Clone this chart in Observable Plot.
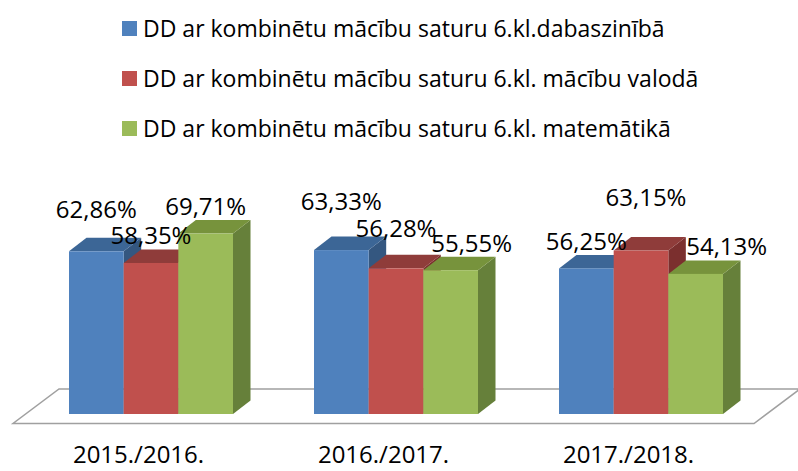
<!DOCTYPE html>
<html>
<head>
<meta charset="utf-8">
<script src="https://cdn.jsdelivr.net/npm/d3@7"></script>
<script src="https://cdn.jsdelivr.net/npm/@observablehq/plot@0.6"></script>
<style>
  body { margin: 0; background: #fff; font-family: "Open Sans", sans-serif; }
  #legend { position: relative; width: 798px; height: 150px; }
  .item { position: absolute; left: 122px; height: 30px; display: flex; align-items: center; font-size: 23px; color: #000; white-space: nowrap; }
  .sw { width: 15px; height: 15px; margin-right: 6px; flex: none; }
  #chart svg { display: block; }
</style>
</head>
<body>
<div id="legend"></div>
<div id="chart"></div>
<script>
// ---- data ----
const years = ["2015./2016.", "2016./2017.", "2017./2018."];
const seriesNames = [
  "DD ar kombinētu mācību saturu 6.kl.dabaszinībā",
  "DD ar kombinētu mācību saturu 6.kl. mācību valodā",
  "DD ar kombinētu mācību saturu 6.kl. matemātikā"
];
const dabaszinibas = [62.86, 63.33, 56.25];
const valodas = [58.35, 56.28, 63.15];
const matematikas = [69.71, 55.55, 54.13];

// ---- styles / layout ----
const frontColors = ["#4F81BD", "#C0504D", "#9BBB59"];
const topColors = ["#3C6696", "#8F3C3A", "#77933C"];
const sideColors = ["#345780", "#7B2F2E", "#66803A"];
const DEPTH_X = 17.5, DEPTH_Y = 13.5;
// label nudges (px) [group][series], mimicking the original label collision placement
const labelNudgeX = [[0, 0, 0], [0, 0, 21], [0, 5, 31]];
const labelNudgeY = [[-15, 0, 0], [-21, -13, 0], [0, -26, 0]];

const seriesValues = [dabaszinibas, valodas, matematikas];
const rows = years.flatMap((year, gi) =>
  seriesNames.map((series, si) => ({year, series, gi, si, value: seriesValues[si][gi]}))
);
const fmt = v => v.toFixed(2).replace(".", ",") + "%";

// ---- legend ----
const legend = d3.select("#legend");
seriesNames.forEach((name, i) => {
  const it = legend.append("div").attr("class", "item").style("top", (13 + i * 50) + "px");
  it.append("div").attr("class", "sw").style("background", frontColors[i]);
  it.append("span").text(name);
});

// ---- render helpers ----
function floorRender(index, scales) {
  const [r0, r1] = scales.x.range();
  const yb = scales.y(0);
  const f = [-12, 9.5], b = [34, -25];
  const g = d3.create("svg:g");
  const pts = [[r0 + f[0], yb + f[1]], [r1 + f[0], yb + f[1]], [r1 + b[0], yb + b[1]], [r0 + b[0], yb + b[1]]];
  g.append("path")
    .attr("d", "M" + pts.map(p => p.join(",")).join("L") + "Z")
    .attr("fill", "#fff").attr("stroke", "#a0a0a0").attr("stroke-width", 1.5);
  return g.node();
}

function barsRender(index, scales) {
  const g = d3.create("svg:g");
  const bw = scales.x.bandwidth() / seriesNames.length;
  const yb = scales.y(0);
  for (const d of rows) {
    const x0 = scales.x(d.year) + d.si * bw, x1 = x0 + bw;
    const yt = scales.y(d.value);
    const bar = g.append("g");
    bar.append("path")
      .attr("d", `M${x1},${yt}L${x1 + DEPTH_X},${yt - DEPTH_Y}L${x1 + DEPTH_X},${yb - DEPTH_Y}L${x1},${yb}Z`)
      .attr("fill", sideColors[d.si]);
    bar.append("path")
      .attr("d", `M${x0},${yt}L${x0 + DEPTH_X},${yt - DEPTH_Y}L${x1 + DEPTH_X},${yt - DEPTH_Y}L${x1},${yt}Z`)
      .attr("fill", topColors[d.si]);
    bar.append("rect")
      .attr("x", x0).attr("y", yt).attr("width", bw).attr("height", yb - yt)
      .attr("fill", frontColors[d.si]);
  }
  return g.node();
}

function labelsRender(index, scales) {
  const g = d3.create("svg:g");
  const bw = scales.x.bandwidth() / seriesNames.length;
  for (const d of rows) {
    const cx = scales.x(d.year) + d.si * bw + bw / 2 + labelNudgeX[d.gi][d.si];
    const cy = scales.y(d.value) - 2 * DEPTH_Y + labelNudgeY[d.gi][d.si];
    g.append("text")
      .attr("x", cx).attr("y", cy).attr("dy", "0.35em")
      .attr("text-anchor", "middle")
      .attr("font-family", "Open Sans").attr("font-size", 24).attr("fill", "#000")
      .text(fmt(d.value));
  }
  return g.node();
}

const chart = Plot.plot({
  width: 798,
  height: 321,
  marginLeft: 25,
  marginRight: 32,
  marginTop: 0,
  marginBottom: 57,
  style: {fontFamily: "Open Sans", background: "#fff", overflow: "visible"},
  x: {type: "band", domain: years, paddingInner: 0.331, paddingOuter: 0.175, axis: null},
  y: {domain: [0, 102], axis: null},
  marks: [
    Plot.frame({stroke: "none", render: floorRender}),
    Plot.frame({stroke: "none", render: barsRender}),
    Plot.frame({stroke: "none", render: labelsRender}),
    Plot.text(years, {x: d => d, y: 0, dx: -13, dy: 41, text: d => d, fontSize: 24, fill: "#000", fontFamily: "Open Sans"})
  ]
});
document.getElementById("chart").append(chart);
</script>
</body>
</html>
